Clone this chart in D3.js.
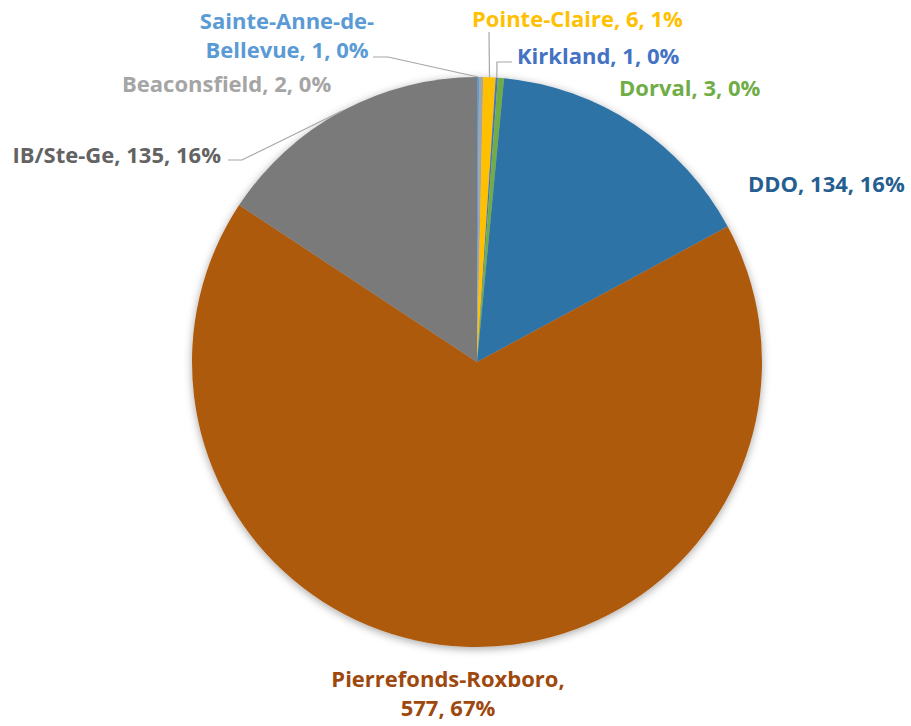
<!DOCTYPE html>
<html>
<head>
<meta charset="utf-8">
<script src="https://cdn.jsdelivr.net/npm/d3@7"></script>
<style>
  html, body { margin: 0; padding: 0; background: #fff; }
  svg { display: block; }
  text { font-family: "Open Sans", Lato, sans-serif; font-weight: 700; }
</style>
</head>
<body>
<svg id="chart" width="911" height="726"></svg>
<script>
// ---- data ----
const categories = ["Sainte-Anne-de-Bellevue", "Beaconsfield", "Pointe-Claire", "Kirkland", "Dorval", "DDO", "Pierrefonds-Roxboro", "IB/Ste-Ge"];
const values = [1, 2, 6, 1, 3, 134, 577, 135];
const sliceColors = ["#5B9BD5", "#A5A5A5", "#FFC000", "#4472C4", "#70AD47", "#2E73A6", "#AE5A0C", "#7A7A7A"];
const labelColors = ["#5B9BD5", "#A5A5A5", "#FFC000", "#4472C4", "#70AD47", "#255E91", "#9E480E", "#636363"];

// ---- layout (label placement) ----
const labelLayout = [
  { lines: ["Sainte-Anne-de-", "Bellevue, 1, 0%"], x: 287, y: 29, anchor: "middle", leader: [[373, 57], [388, 57]] },
  { lines: null, x: 122, y: 92, anchor: "start", leader: null },
  { lines: null, x: 472, y: 27, anchor: "start", leader: [[489, 32]] },
  { lines: null, x: 517, y: 64, anchor: "start", leader: [[512, 62], [497, 62]] },
  { lines: null, x: 619, y: 96, anchor: "start", leader: null },
  { lines: null, x: 748, y: 192, anchor: "start", leader: null },
  { lines: ["Pierrefonds-Roxboro,", null], x: 448, y: 687, anchor: "middle", leader: null },
  { lines: null, x: 221, y: 163, anchor: "end", leader: [[228, 160], [242, 160]] }
];

const W = 911, H = 726;
const cx = 477, cy = 362, R = 285;
const svg = d3.select("#chart");

const defs = svg.append("defs");
const f = defs.append("filter").attr("id", "shadow").attr("x", "-10%").attr("y", "-10%").attr("width", "120%").attr("height", "120%");
f.append("feDropShadow").attr("dx", 0).attr("dy", 2).attr("stdDeviation", 4).attr("flood-color", "#000").attr("flood-opacity", 0.35);

const total = d3.sum(values);
const data = categories.map((c, i) => ({ name: c, value: values[i], i }));

const pie = d3.pie().value(d => d.value).sort(null);
const arcs = pie(data);
const arc = d3.arc().innerRadius(0).outerRadius(R);

const g = svg.append("g").attr("transform", `translate(${cx},${cy})`);
g.append("g").attr("filter", "url(#shadow)")
  .selectAll("path").data(arcs).join("path")
  .attr("d", arc)
  .attr("fill", d => sliceColors[d.data.i]);

// leader lines
arcs.forEach(a => {
  const L = labelLayout[a.data.i];
  if (!L.leader) return;
  const mid = (a.startAngle + a.endAngle) / 2;
  const edge = [cx + R * Math.sin(mid), cy - R * Math.cos(mid)];
  const pts = L.leader.concat([edge]);
  svg.append("path")
    .attr("d", d3.line()(pts))
    .attr("fill", "none")
    .attr("stroke", "#A6A6A6")
    .attr("stroke-width", 1.2);
});

// labels
const fontSize = 22, lineH = 28.5;
arcs.forEach(a => {
  const i = a.data.i;
  const L = labelLayout[i];
  const pct = Math.round(a.data.value / total * 100) + "%";
  const full = `${a.data.name}, ${a.data.value}, ${pct}`;
  let lines;
  if (L.lines) {
    lines = L.lines.map(s => s === null ? `${a.data.value}, ${pct}` : s);
  } else {
    lines = [full];
  }
  const t = svg.append("text")
    .attr("x", L.x).attr("y", L.y)
    .attr("text-anchor", L.anchor)
    .attr("font-size", fontSize)
    .attr("fill", labelColors[i]);
  lines.forEach((ln, k) => {
    t.append("tspan").attr("x", L.x).attr("y", L.y + k * lineH).text(ln);
  });
});
</script>
</body>
</html>
